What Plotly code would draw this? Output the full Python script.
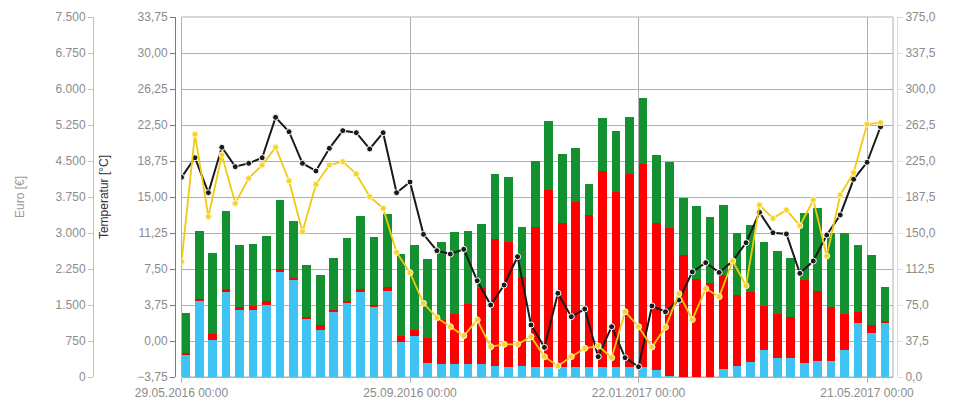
import pandas as pd
import plotly.graph_objects as go

# Wochen (Startdatum jeder Woche)
weeks = pd.date_range('2016-05-29', periods=53, freq='7D')

# Kosten in Euro, gestapelt
euro_blue = [458, 1577, 771, 1777, 1402, 1396, 1506, 2194, 2035, 1208, 979, 1369, 1542, 1777,
             1452, 1798, 735, 854, 285, 271, 271, 271, 271, 229, 215, 229, 202,
             202, 202, 202, 202, 202, 202, 202, 202, 146, 15, 10, 5, 5,
             160, 229, 319, 562, 390, 390, 298, 340, 333, 562, 1119, 923, 1140]
euro_red = [42, 42, 119, 56, 50, 90, 77, 62, 35, 42, 98, 28, 48, 62,
            48, 77, 125, 125, 521, 917, 1042, 1250, 1590, 2646, 2604, 1848, 2929,
            3694, 3013, 3450, 3179, 4090, 3658, 4033, 4235, 3056, 3092, 2527, 2035, 1952,
            1965, 1479, 1458, 917, 923, 854, 1723, 1446, 1131, 750, 229, 160, 27]
euro_green = [840, 1429, 1700, 1619, 1292, 1279, 1360, 1425, 1175, 1083, 1048, 1083, 1312, 1506,
              1423, 1527, 1696, 1777, 1652, 1631, 1702, 1521, 1321, 1348, 1354, 1048, 1362,
              1444, 1437, 1125, 633, 1110, 1271, 1181, 1369, 1423, 1375, 1187, 1521, 1381,
              1458, 1285, 1383, 1327, 1306, 1242, 1390, 1742, 1529, 1681, 1408, 1458, 715]

# Temperatur [°C]
temperatur = [17.05, 19.09, 15.45, 20.18, 18.16, 18.51, 19.09, 23.30, 21.80, 18.51, 17.71, 20.07, 21.91, 21.70,
              20.0, 21.70, 15.45, 16.56, 11.11, 9.41, 9.06, 9.55, 6.28, 3.75, 5.83, 8.78, 1.67,
              -0.66, 4.97, 2.53, 3.33, -1.63, 1.49, -1.74, -2.68, 3.65, 3.05, 4.27, 7.2, 8.16,
              7.14, 8.33, 10.24, 13.40, 11.28, 11.15, 7.05, 8.33, 11.04, 13.13, 16.84, 18.61, 22.32]

# Solarertrag [kWh]
solar = [120.1, 252.8, 167.0, 231.3, 180.9, 207.0, 220.8, 239.3, 204.5, 151.4, 200.7, 220.8, 224.3, 211.5,
         187.8, 175.7, 129.9, 108.7, 76.8, 61.8, 52.4, 43.0, 59.4, 31.6, 34.0, 34.0, 42.0,
         21.2, 11.5, 21.2, 29.9, 32.3, 20.1, 68.0, 52.4, 31.2, 51.8, 86.8, 59.8, 92.0,
         83.7, 120.8, 95.1, 179.2, 165.3, 174.0, 157.6, 184.4, 126.0, 189.6, 212.8, 263.2, 264.9]

W = 973
DAY = 86400000
GRID = '#b0b0b0'
LABEL = '#8c8c8c'
FONT = 'Liberation Sans, Arial, sans-serif'

fig = go.Figure()

for vals, color in [(euro_blue, '#3ec3f2'), (euro_red, '#ff0000'), (euro_green, '#13902f')]:
    fig.add_trace(go.Bar(
        x=weeks, y=vals, yaxis='y',
        marker_color=color, marker_line_width=0,
        offset=0, width=4.5 * DAY,
        hovertemplate='%{x|%d.%m.%Y}<br>%{y:,.0f} €<extra></extra>'
    ))

fig.add_trace(go.Scatter(
    x=weeks, y=temperatur, yaxis='y2', mode='lines+markers',
    line=dict(color='#1a1a1a', width=2),
    marker=dict(color='#1a1a1a', size=6, line=dict(color='white', width=1)),
    hovertemplate='%{x|%d.%m.%Y}<br>%{y:.2f} °C<extra></extra>'
))

fig.add_trace(go.Scatter(
    x=weeks, y=solar, yaxis='y3', mode='lines+markers',
    line=dict(color='#f3c90c', width=1.8),
    marker=dict(color='#f5d430', size=6, line=dict(color='#fff6c8', width=1)),
    hovertemplate='%{x|%d.%m.%Y}<br>%{y:.1f} kWh<extra></extra>'
))

x0, x1 = 181.5 / W, 893 / W

fig.update_layout(
    width=W, height=406,
    autosize=False,
    template='none',
    margin=dict(l=0, r=0, t=17, b=29),
    paper_bgcolor='white', plot_bgcolor='white',
    separators=',.',
    barmode='stack',
    showlegend=False,
    font=dict(family=FONT, size=12, color=LABEL),
    xaxis=dict(
        domain=[x0, x1],
        type='date',
        range=['2016-05-29', '2017-06-03 12:00'],
        tick0='2016-05-29', dtick=119 * DAY,
        tickformat='%d.%m.%Y %H:%M',
        showgrid=True, gridcolor=GRID, gridwidth=1,
        showline=True, linecolor=GRID, linewidth=1,
        ticks='outside', ticklen=5, tickcolor=GRID,
        tickfont=dict(size=12, color=LABEL),
        zeroline=False, automargin=False,
    ),
    yaxis=dict(
        range=[0, 7500], tick0=0, dtick=750, tickformat=',.0f',
        anchor='free', position=93 / W,
        showgrid=True, gridcolor=GRID, gridwidth=1,
        showline=True, linecolor='#c0c0c0',
        ticks='outside', ticklen=5, tickcolor='#c0c0c0',
        tickfont=dict(size=12, color=LABEL),
        title=dict(text='Euro [€]', font=dict(size=12, color='#9a9a9a'), standoff=27),
        zeroline=False, automargin=False,
    ),
    yaxis2=dict(
        range=[-3.75, 33.75], tick0=-3.75, dtick=3.75, tickformat='.2f',
        overlaying='y', anchor='free', position=175 / W,
        showgrid=False,
        showline=True, linecolor='#7a7a7a',
        ticks='outside', ticklen=5, tickcolor='#7a7a7a',
        tickfont=dict(size=12, color=LABEL),
        title=dict(text='Temperatur [°C]', font=dict(size=12, color='#333333'), standoff=25),
        zeroline=False, automargin=False,
    ),
    yaxis3=dict(
        range=[0, 375], tick0=0, dtick=37.5, tickformat='.1f',
        overlaying='y', side='right', anchor='free', position=897 / W,
        showgrid=False,
        showline=True, linecolor='#f5e26e',
        ticks='outside', ticklen=5, tickcolor='#f5e26e',
        tickfont=dict(size=12, color=LABEL),
        zeroline=False, automargin=False,
    ),
    shapes=[dict(type='rect', xref='paper', yref='paper', x0=x0, x1=x1, y0=0, y1=1,
                 line=dict(color=GRID, width=1), layer='below')],
    # Titel der rechten Achse liegt zum Großteil außerhalb des sichtbaren Bereichs
    annotations=[dict(text='Solarstrom-Ertrag [kWh]', xref='paper', yref='paper',
                      x=979 / W, y=0.5, xanchor='center', yanchor='middle',
                      textangle=-90, showarrow=False,
                      font=dict(size=12, color='#f0cf10'))],
)

# Seitenrand des Browsers entfernen, damit die Grafik bei (0, 0) beginnt
fig.write_html("out.html", config={'displayModeBar': False},
               post_script="document.body.style.margin='0';")
